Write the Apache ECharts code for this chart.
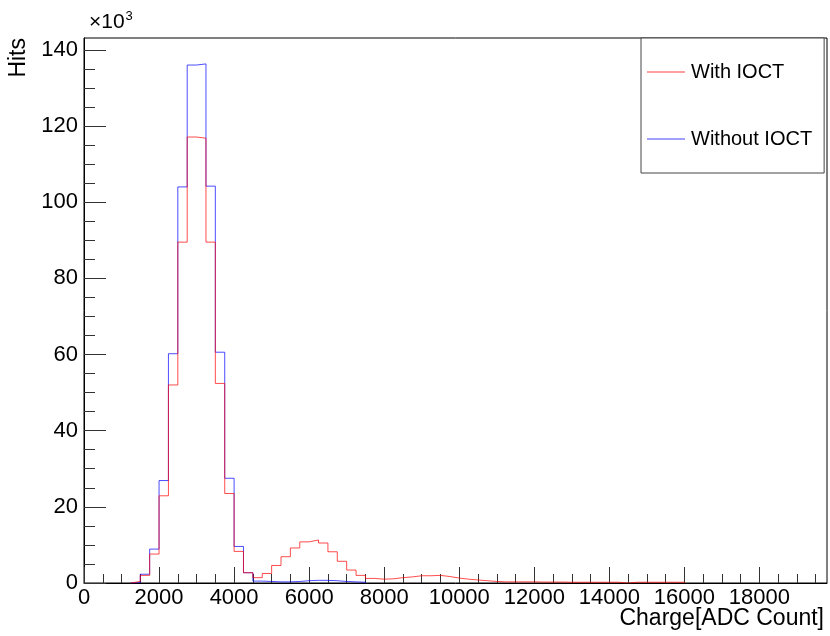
<!DOCTYPE html>
<html>
<head>
<meta charset="utf-8">
<script src="https://cdn.jsdelivr.net/npm/echarts@6/dist/echarts.min.js"></script>
<style>
  html, body { margin: 0; background: #fff; }
  #main { width: 830px; height: 636px; }
</style>
</head>
<body>
<div id="main"></div>
<script>
// histogram bins are 250 ADC wide, first filled bin starts at 1250
const binStart = 1250
const binWidth = 250
const xMax = 19800
const yMax = 143.1 // x10^3 hits

// hits per bin (x10^3)
const withIOCT = [
  0.4, 2.0, 7.6, 22.9, 52.0, 89.5, 117.1, 116.8, 89.5, 52.4,
  23.5, 8.3, 2.7, 1.4, 2.5, 4.6, 6.9, 9.2, 10.8, 11.3,
  10.5, 8.2, 5.7, 3.4, 2.0, 1.2, 1.0, 1.1, 1.4, 1.6,
  1.9, 1.9, 2.0, 1.7, 1.3, 1.0, 0.8, 0.6, 0.4,
  0.3, 0.3, 0.3, 0.3, 0.25, 0.25, 0.25, 0.2, 0.2, 0.2, 0.2, 0.2, 0.2,
  0,
  0.2, 0.2, 0.2, 0.2, 0.2, 0.2
]
const withoutIOCT = [
  0.1, 2.3, 8.9, 26.9, 60.2, 104.0, 136.0, 136.3, 104.2, 60.6,
  27.5, 9.6, 2.7, 0.5, 0.4, 0.3, 0.3, 0.4, 0.6, 0.7,
  0.7, 0.6, 0.4, 0.3, 0.2
]

const xTicks = [0, 2000, 4000, 6000, 8000, 10000, 12000, 14000, 16000, 18000]
const yTicks = [0, 20, 40, 60, 80, 100, 120, 140]

// minor ticks: every 500 on x, every 5 on y
const xMinor = []
for (let v = 500; v < xMax; v += 500) if (v % 2000) xMinor.push(v)
const yMinor = []
for (let v = 5; v < yMax; v += 5) if (v % 20) yMinor.push(v)

// turn bin contents into step points
function histPoints (values) {
  const pts = [[binStart, 0]]
  values.forEach((v, i) => pts.push([binStart + i * binWidth, v]))
  pts.push([binStart + values.length * binWidth, 0])
  return pts
}

const font = 'Liberation Sans, Arial, sans-serif'
const tickColor = '#333'

const myChart = echarts.init(document.getElementById('main'))
myChart.setOption({
  backgroundColor: '#fff',
  animation: false,
  textStyle: { fontFamily: font, color: '#000' },
  grid: {
    left: 84,
    top: 38,
    right: 3,
    bottom: 53,
    show: true,
    borderColor: '#000',
    borderWidth: 1
  },
  legend: {
    orient: 'vertical',
    left: 641,
    top: 38,
    padding: [22, 12, 22, 6],
    itemGap: 43,
    itemWidth: 38,
    itemHeight: 1.5,
    icon: 'rect',
    borderColor: '#444',
    borderWidth: 1,
    backgroundColor: '#fff',
    textStyle: { fontSize: 20, fontFamily: font, color: '#000', lineHeight: 24, padding: [0, 0, 0, 1] },
    data: ['With IOCT', 'Without IOCT']
  },
  xAxis: [
    {
      type: 'value',
      min: 0,
      max: xMax,
      axisLine: { lineStyle: { color: '#000' } },
      axisTick: { inside: true, length: 16, customValues: xTicks, lineStyle: { color: tickColor } },
      axisLabel: { customValues: xTicks, formatter: v => String(v), fontSize: 22, margin: 4, color: '#000', fontFamily: font },
      splitLine: { show: false }
    },
    {
      type: 'value',
      min: 0,
      max: xMax,
      position: 'bottom',
      axisLine: { show: false },
      axisTick: { inside: true, length: 9, customValues: xMinor, lineStyle: { color: tickColor } },
      axisLabel: { show: false },
      splitLine: { show: false }
    }
  ],
  yAxis: [
    {
      type: 'value',
      min: 0,
      max: yMax,
      axisLine: { show: true, lineStyle: { color: '#000' } },
      axisTick: { show: true, inside: true, length: 22, customValues: yTicks, lineStyle: { color: tickColor } },
      axisLabel: { customValues: yTicks, formatter: v => String(v), fontSize: 22, margin: 6, color: '#000', fontFamily: font },
      splitLine: { show: false }
    },
    {
      type: 'value',
      min: 0,
      max: yMax,
      position: 'left',
      axisLine: { show: false },
      axisTick: { show: true, inside: true, length: 11, customValues: yMinor, lineStyle: { color: tickColor } },
      axisLabel: { show: false },
      splitLine: { show: false }
    }
  ],
  graphic: [
    {
      type: 'text',
      x: 19,
      y: 38,
      rotation: Math.PI / 2,
      style: { text: 'Hits', font: '23px ' + font, fill: '#000', textAlign: 'right', textVerticalAlign: 'middle' }
    },
    {
      type: 'text',
      x: 89,
      y: 22,
      style: {
        text: '×10{sup|3}',
        font: '21px ' + font,
        fill: '#000',
        textVerticalAlign: 'middle',
        rich: { sup: { fontSize: 13, verticalAlign: 'top', padding: [0, 0, 12, 1] } }
      }
    },
    {
      type: 'text',
      x: 824,
      y: 619,
      style: { text: 'Charge[ADC Count]', font: '23px ' + font, fill: '#000', textAlign: 'right', textVerticalAlign: 'middle' }
    }
  ],
  series: [
    {
      name: 'Without IOCT',
      type: 'line',
      step: 'end',
      showSymbol: false,
      symbol: 'none',
      color: '#0000ff',
      lineStyle: { width: 1, color: '#0000ff', opacity: 0.7 },
      itemStyle: { color: '#8080ff' },
      data: histPoints(withoutIOCT)
    },
    {
      name: 'With IOCT',
      type: 'line',
      step: 'end',
      showSymbol: false,
      symbol: 'none',
      color: '#ff0000',
      lineStyle: { width: 1, color: '#ff0000', opacity: 0.7 },
      itemStyle: { color: '#ff8080' },
      data: histPoints(withIOCT)
    }
  ]
})
</script>
</body>
</html>
